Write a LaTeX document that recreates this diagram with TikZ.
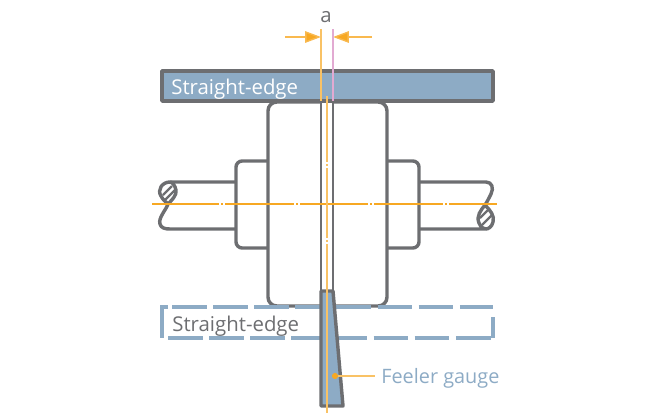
\documentclass[tikz,border=0pt]{standalone}
\usepackage{fontspec}
\setmainfont{Open Sans}
\usetikzlibrary{arrows.meta, positioning}
\definecolor{steelgray}{RGB}{109, 110, 113}
\definecolor{edgeblue}{RGB}{141, 171, 197}
\definecolor{axisorange}{RGB}{247, 168, 35}
\definecolor{gappink}{RGB}{226, 170, 210}
\tikzset{
  part/.style={draw=steelgray, line width=1.95pt, line join=round},
  thinpart/.style={draw=steelgray, line width=1.25pt},
  blueline/.style={draw=edgeblue, line width=1.95pt},
  axis/.style={draw=axisorange, line width=0.7pt},
  paleaxis/.style={draw=axisorange!70, line width=0.6pt},
  dimarrow/.style={draw=axisorange!80, line width=0.8pt, -{Triangle[length=9pt, width=6.5pt, fill=axisorange]}},
  hatchline/.style={draw=steelgray, line width=1.3pt},
  edgetext/.style={font=\fontsize{11.6}{14}\selectfont, inner sep=0pt, anchor=west}
}
\begin{document}
\begin{tikzpicture}[x=0.02cm, y=-0.02cm]
  \useasboundingbox (0,0) rectangle (650,416);

  % Hub halves and flanges
  \draw[part, rounded corners=5pt] (321,102) -- (268,102) -- (268,306) -- (321,306);
  \draw[part, rounded corners=5pt] (333,102) -- (387,102) -- (387,306) -- (333,306);
  \draw[thinpart] (321,102) -- (321,295);
  \draw[thinpart] (333,102) -- (333,295);
  \draw[part, rounded corners=3.5pt] (268,161) -- (236,161) -- (236,248) -- (268,248);
  \draw[part, rounded corners=3.5pt] (387,161) -- (419,161) -- (419,248) -- (387,248);

  % Shafts with broken ends
  \draw[part] (236,182) -- (170,182) .. controls (162,182) and (157,190) .. (161,196) .. controls (163,200) and (166,202) .. (168,204) .. controls (166,210) and (158,218) .. (160,224) .. controls (161,228) and (165,229) .. (170,229) -- (236,229);
  \draw[part] (168,204) .. controls (172,200) and (177,195) .. (176,190) .. controls (175,185) and (172,182) .. (170,182);
  \draw[part] (419,182) -- (486,182) .. controls (492,182) and (494,188) .. (491,194) .. controls (489,198) and (487,202) .. (485,205) .. controls (481,210) and (476,216) .. (479,223) .. controls (481,228) and (484,229) .. (486,229) -- (419,229);
  \draw[part] (485,205) .. controls (490,210) and (495,216) .. (493,222) .. controls (492,227) and (488,229) .. (486,229);
  \draw[hatchline] (163,195) -- (172,186);
  \draw[hatchline] (165,200) -- (175,190);
  \draw[hatchline] (480,218) -- (489,209);
  \draw[hatchline] (482,225) -- (492,215);

  % Top straight-edge
  \draw[part, fill=edgeblue] (162,71) rectangle (493,101);
  \node[edgetext, text=white] (toplabel) at (171,89) {Straight-edge};

  % Lower straight-edge, dashed
  \draw[blueline, dash pattern=on 19.8pt off 3.6pt] (172,307) -- (493,307);
  \draw[blueline, dash pattern=on 19.8pt off 3.6pt] (168,338) -- (493,338);
  \draw[blueline] (168,307) -- (162,307) -- (162,338);
  \draw[blueline] (493,317) -- (493,338);
  \node[edgetext, text=steelgray] (lowlabel) at (172,326) {Straight-edge};

  % Feeler gauge
  \draw[part, fill=edgeblue] (321,291) -- (333,291) -- (343,406) -- (321,406) -- cycle;

  % Axes
  \draw[axis] (152,204) -- (219,204) (221,204) -- (223,204) (225,204) -- (294,204) (296,204) -- (298,204) (300,204) -- (368,204) (370,204) -- (372,204) (374,204) -- (443,204) (445,204) -- (447,204) (449,204) -- (497,204);
  \draw[paleaxis] (327,96) -- (327,162) (327,164) -- (327,166) (327,168) -- (327,238) (327,240) -- (327,242) (327,244) -- (327,413);

  % Gap dimension
  \node[font=\fontsize{11.6}{14}\selectfont, text=steelgray, inner sep=0pt] (gaplabel) at (326,17) {a};
  \coordinate (leftfar) at (285,37);
  \coordinate (lefttip) at (321,37);
  \coordinate (rightfar) at (372,37);
  \coordinate (righttip) at (333,37);
  \draw[dimarrow] (leftfar) -- (lefttip);
  \draw[dimarrow] (rightfar) -- (righttip);
  \draw[paleaxis] (321,29) -- (321,101);
  \draw[draw=gappink, line width=0.6pt] (333,29) -- (333,101);

  % Feeler gauge leader
  \node[circle, fill=axisorange, inner sep=0pt, minimum size=3.5pt] (gaugedot) at (335,376) {};
  \node[edgetext, font=\fontsize{11.3}{14}\selectfont, text=edgeblue] (gaugelabel) at (381,378) {Feeler gauge};
  \coordinate (leaderend) at (375,376);
  \draw[paleaxis] (gaugedot) -- (leaderend);
\end{tikzpicture}
\end{document}
